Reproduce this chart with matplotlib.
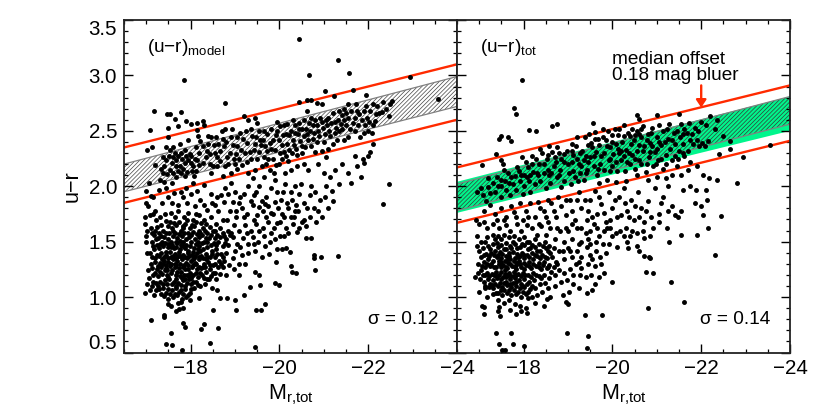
import matplotlib
matplotlib.use("Agg")
import matplotlib.pyplot as plt
from matplotlib.ticker import MultipleLocator

plt.rcParams['font.family'] = ['Liberation Sans', 'DejaVu Sans']
plt.rcParams['mathtext.fontset'] = 'custom'
plt.rcParams['mathtext.rm'] = 'Liberation Sans'
plt.rcParams['mathtext.default'] = 'rm'
plt.rcParams['hatch.linewidth'] = 0.5

left_outliers = [(-20.45,3.33),(-21.31,3.14),(-20.66,3.00),(-21.57,3.02),(-17.86,2.96),(-22.94,2.99),(-23.58,2.79),(-21.65,2.87),(-21.03,2.86),(-21.24,2.81),(-21.96,2.82),(-18.77,2.75),(-17.17,2.68),(-17.78,2.67),(-17.53,2.65),(-17.47,2.65),(-17.64,2.61),(-17.08,2.51),(-17.89,2.59),(-22.47,2.02),(-21.84,2.08),(-22.33,1.84),
(-17.11,0.79),(-17.40,0.84),(-17.40,0.82),(-17.56,0.68),(-17.44,0.58),(-17.57,0.57),(-17.81,0.52),(-17.84,0.77),(-17.87,0.73),(-18.30,0.76),(-18.24,0.71),(-18.61,0.72),(-18.43,0.59),(-19.46,0.55),(-18.51,0.88),(-19.02,0.88),(-19.47,0.88),(-19.59,0.88),(-19.68,0.94),(-18.19,0.99),(-18.67,0.99),(-18.82,0.99),(-19.0,0.97),(-19.2,1.02),(-19.34,1.09),(-18.49,1.08),(-18.6,1.06),(-19.56,1.11),(-19.9,1.13),(-20.0,1.11),(-19.45,1.23),(-19.55,1.2),(-19.92,1.32),(-20.27,1.28),(-20.28,1.23),(-20.37,1.22),(-20.81,1.24),(-20.94,1.36),(-20.78,1.38),(-20.78,1.35),(-21.33,1.37),(-20.6,1.53),(-20.72,1.53),(-20.39,1.59),(-20.24,1.41),(-20.14,1.44),(-20.05,1.43),(-19.94,1.43),(-19.76,1.39),(-19.6,1.36)]

left_sequence = [(-17.02,2.33),(-17.13,2.35),(-17.2,2.19),(-17.07,2.03),(-17.0,1.96),(-17.1,1.91),(-17.3,2.06),(-17.41,2.04),(-17.38,2.26),(-17.45,2.35),(-17.49,2.44),(-17.49,2.53),(-17.72,2.54),(-17.45,2.24),(-17.57,2.21),(-17.41,2.18),(-17.53,2.15),(-17.38,2.12),(-17.64,2.3),(-17.6,2.35),(-17.53,2.33),(-17.72,2.27),(-17.79,2.3),(-17.87,2.33),(-17.75,2.18),(-17.6,2.12),(-17.72,2.14),(-17.87,2.21),(-17.94,2.24),(-18.02,2.21),(-17.98,2.29),(-18.06,2.18),(-18.13,2.14),(-17.87,2.09),(-17.45,1.98),(-17.57,2.03),(-18.06,2.03),(-17.94,2.42),(-18.02,2.56),(-18.15,2.57),(-18.15,2.51),(-18.28,2.59),(-18.3,2.55),(-18.17,2.45),(-18.21,2.41),(-18.39,2.45),(-18.47,2.44),(-18.58,2.44),(-18.28,2.36),(-18.43,2.29),(-18.55,2.3),(-18.66,2.32),(-18.28,2.21),(-18.43,2.2),(-18.66,2.23),(-18.77,2.18),(-18.73,2.09),(-18.47,2.12),
(-17.6,2.26),(-17.66,2.18),(-17.8,2.25),(-17.84,2.16),(-17.92,2.13),(-18.0,2.27),(-18.1,2.25),(-18.08,2.09),(-17.68,2.08),(-18.18,2.3),(-18.36,2.32),(-18.52,2.37),(-18.62,2.38),(-18.75,2.36),(-18.72,2.43),(-18.8,2.4),(-18.78,2.52),(-18.7,2.5),(-18.9,2.44),(-18.95,2.37),(-18.88,2.3),(-18.98,2.25),(-18.85,2.2),(-19.05,2.16),(-19.1,2.25),(-19.05,2.36),(-19.12,2.48),(-19.2,2.63),(-19.18,2.43),(-19.28,2.39),(-19.22,2.3),(-19.15,2.19),(-19.3,2.12),(-19.35,2.25),(-19.42,2.33),(-19.38,2.45),(-19.35,2.52),(-19.3,2.6),(-19.45,2.62),(-19.5,2.57),(-19.55,2.5),(-19.48,2.44),(-19.58,2.37),(-19.5,2.25),(-19.6,2.18),(-19.45,2.15),(-19.4,2.07),(-19.65,2.08),(-19.7,2.2),(-19.72,2.32),(-19.62,2.42),(-19.72,2.47),(-19.78,2.39),(-19.86,2.42),(-19.9,2.33),(-19.85,2.25),(-19.78,2.15),(-19.88,2.12),(-20.0,2.2),(-20.02,2.3),(-20.0,2.42),(-19.95,2.5),(-20.02,2.54),(-19.95,2.58),(-20.1,2.55),(-20.14,2.47),(-20.18,2.38),(-20.1,2.31),(-20.2,2.23),(-20.12,2.12),(-20.25,2.15),(-20.28,2.3),(-20.3,2.42),(-20.25,2.5),(-20.35,2.55),(-20.3,2.6),(-20.45,2.57),(-20.42,2.47),(-20.5,2.36),(-20.4,2.28),(-20.5,2.3),(-20.4,2.18),(-20.55,2.2),(-20.55,2.45),(-20.6,2.52),(-20.55,2.6),(-20.62,2.68),(-20.45,2.76),(-20.62,2.78),(-20.72,2.78),(-20.85,2.75),(-20.95,2.74),(-20.72,2.62),(-20.7,2.5),(-20.65,2.42),(-20.72,2.36),(-20.8,2.31),(-20.78,2.48),(-20.85,2.55),(-20.8,2.6),(-20.92,2.62),(-20.98,2.53),(-20.9,2.45),(-21.0,2.4),(-20.95,2.32),(-21.05,2.26),(-21.1,2.34),(-21.15,2.45),(-21.08,2.55),(-21.1,2.62),(-21.2,2.66),(-21.25,2.58),(-21.25,2.48),(-21.2,2.38),(-21.3,2.42),(-21.35,2.5),(-21.32,2.6),(-21.35,2.68),(-21.45,2.7),(-21.55,2.74),(-21.45,2.6),(-21.42,2.52),(-21.45,2.42),(-21.55,2.44),(-21.6,2.52),(-21.55,2.62),(-21.62,2.68),(-21.72,2.74),(-21.7,2.62),(-21.7,2.5),(-21.78,2.55),(-21.8,2.65),(-21.85,2.6),(-21.9,2.68),(-21.98,2.62),(-22.05,2.68),(-22.1,2.74),(-22.2,2.72),(-22.25,2.66),(-22.33,2.76),(-22.4,2.7),(-22.48,2.74),(-22.1,2.55),(-22.0,2.5),(-21.9,2.48),(-21.82,2.44),(-22.08,2.48),(-22.1,2.38),(-22.04,2.31),(-22.0,2.27),(-21.9,2.21),(-21.88,2.25),(-22.32,2.67),(-22.46,2.63),(-22.53,2.77),
(-17.33,2.16),(-17.47,2.11),(-17.52,2.27),(-17.67,2.24),(-17.78,2.12),(-17.9,2.27),(-18.04,2.14),(-18.2,2.19),(-18.35,2.26),(-18.5,2.18),(-18.6,2.26),(-18.83,2.26),(-18.92,2.12),(-19.0,2.2),(-19.02,2.29),(-19.14,2.33),(-19.26,2.22),(-19.33,2.31),(-19.45,2.38),(-19.53,2.31),(-19.56,2.42),(-19.66,2.26),(-19.67,2.36),(-19.75,2.25),(-19.82,2.34),(-19.92,2.46),(-19.93,2.19),(-20.06,2.37),(-20.06,2.25),(-20.08,2.46),(-20.15,2.27),(-20.22,2.46),(-20.22,2.33),(-20.33,2.37),(-20.36,2.48),(-20.38,2.34),(-20.47,2.41),(-20.52,2.52),(-20.58,2.35),(-20.63,2.47),(-20.66,2.57),(-20.75,2.43),(-20.75,2.55),(-20.85,2.4),(-20.87,2.5),(-20.95,2.58),(-21.03,2.47),(-21.05,2.6),(-21.12,2.5),(-21.17,2.57),(-21.28,2.53),(-21.38,2.56),(-21.5,2.55),(-21.5,2.66),(-21.65,2.57),(-21.75,2.68),(-21.92,2.55),(-21.95,2.72),(-22.02,2.58),(-22.18,2.65),(-22.15,2.59),(-21.4,2.64),(-19.25,2.5),(-19.65,2.5),(-19.8,2.52),(-20.18,2.56),(-20.45,2.52),(-18.93,2.52),(-19.05,2.44),(-18.6,2.18),(-18.15,2.24),(-18.12,2.35),(-17.75,2.38),(-18.4,2.38)]

left_middle = [(-17.0,1.85),(-17.15,1.9),(-17.28,1.97),(-17.05,1.82),(-17.2,1.78),(-17.35,1.85),(-17.5,1.9),(-17.62,1.94),(-17.78,1.95),(-17.9,1.98),(-18.02,1.93),(-18.15,1.96),(-18.3,2.01),(-18.45,1.93),(-18.6,1.9),(-18.78,1.98),(-18.9,2.03),(-19.0,1.95),(-19.08,1.85),(-19.2,1.93),(-19.3,2.0),(-19.42,1.92),(-19.55,2.0),(-19.6,1.87),(-19.7,1.9),(-19.8,1.98),(-19.9,2.06),(-19.95,1.95),(-20.03,1.88),(-20.12,2.02),(-20.25,1.95),(-20.35,2.0),(-20.45,1.93),(-20.55,1.85),(-20.68,1.92),(-20.8,1.95),(-20.92,1.88),(-21.05,2.0),(-21.15,2.08),(-21.25,2.15),(-21.4,2.2),(-21.55,2.12),(-21.7,2.27),(-21.75,2.18),(-21.62,2.03),(-21.35,2.02),(-21.0,2.12),(-20.88,2.2),(-20.65,2.15),
(-17.82,1.9),(-17.93,1.85),(-18.1,1.82),(-18.22,1.88),(-18.38,1.79),(-18.48,1.85),(-18.62,1.78),(-18.75,1.86),(-18.88,1.78),(-19.02,1.72),(-19.15,1.8),(-19.28,1.75),(-19.4,1.83),(-19.5,1.74),(-19.62,1.78),(-19.75,1.82),(-19.85,1.75),(-19.97,1.8),(-20.1,1.72),(-20.2,1.8),(-20.32,1.72),(-20.42,1.78),(-20.55,1.7),(-20.7,1.72),(-20.82,1.68),(-20.95,1.72),(-21.1,1.8),(-21.2,1.87),(-20.6,1.64),(-20.45,1.62),(-20.3,1.66),(-20.15,1.62),(-20.02,1.68),(-19.88,1.62),(-19.75,1.68),(-19.62,1.62),(-19.48,1.66),(-19.35,1.6),(-19.22,1.65),(-19.1,1.6),(-18.98,1.65),(-18.85,1.6),(-18.72,1.7),(-18.58,1.66),(-18.45,1.72),(-18.3,1.7),(-18.2,1.74),(-19.9,1.52),(-19.78,1.5),(-19.65,1.55),(-19.52,1.5),(-19.4,1.54),(-19.3,1.48),(-19.18,1.53),(-19.05,1.48),(-18.95,1.54),(-19.45,1.42),(-19.3,1.4),(-19.15,1.38),(-19.0,1.42),(-19.22,1.3),(-19.08,1.3),(-18.98,1.25),(-19.1,1.2),(-18.95,1.35),(-20.02,1.55),(-19.82,1.58),
(-17.58,1.85),(-17.72,1.83),(-18.3,1.83),(-18.55,1.83),(-18.68,1.92),(-18.95,1.86),(-19.12,1.9),(-19.35,1.87),(-19.48,1.95),(-19.55,1.81),(-19.68,1.84),(-19.8,1.76),(-19.9,1.86),(-20.08,1.95),(-20.16,1.85),(-20.28,1.88),(-20.38,1.83),(-20.48,2.02),(-20.62,1.8),(-20.72,2.0),(-20.78,1.8),(-20.88,1.78),(-21.02,1.9),(-21.18,1.96),(-20.05,1.75),(-20.25,1.72),(-19.7,1.72),(-19.42,1.7),(-19.2,1.72),(-19.02,1.78),(-18.82,1.7),(-18.92,1.58),(-19.28,1.58),(-19.55,1.6),(-19.68,1.46),(-19.42,1.48),(-19.12,1.45),(-20.1,1.55),(-20.2,1.58),(-20.5,1.68),(-19.95,1.67),(-20.35,1.78),(-18.85,1.93)]

left_blob = [(-16.98,1.72),(-17.08,1.74),(-17.15,1.75),(-16.97,1.66),(-17.02,1.6),(-17.0,1.55),(-17.0,1.5),(-17.1,1.62),(-17.22,1.7),(-17.32,1.72),(-17.42,1.75),(-17.55,1.76),(-17.65,1.72),(-17.72,1.78),(-17.85,1.72),(-17.95,1.76),(-18.05,1.7),(-18.12,1.75),
(-17.18,1.56),(-17.28,1.58),(-17.38,1.6),(-17.48,1.64),(-17.58,1.62),(-17.68,1.65),(-17.78,1.6),(-17.88,1.66),(-17.98,1.62),(-18.08,1.64),(-18.18,1.6),(-18.28,1.62),(-18.38,1.58),(-18.5,1.6),(-18.6,1.56),(-18.72,1.58),(-18.8,1.52),
(-17.12,1.5),(-17.22,1.52),(-17.3,1.48),(-17.4,1.54),(-17.5,1.52),(-17.6,1.55),(-17.7,1.53),(-17.8,1.55),(-17.9,1.52),(-18.0,1.56),(-18.1,1.52),(-18.2,1.54),(-18.3,1.5),(-18.42,1.53),(-18.52,1.49),(-18.62,1.5),(-18.72,1.46),(-18.85,1.47),
(-17.08,1.4),(-17.18,1.43),(-17.28,1.44),(-17.38,1.46),(-17.48,1.45),(-17.58,1.47),(-17.68,1.45),(-17.78,1.47),(-17.88,1.44),(-17.98,1.46),(-18.08,1.44),(-18.18,1.46),(-18.28,1.43),(-18.38,1.45),(-18.48,1.42),(-18.58,1.43),(-18.68,1.39),(-18.8,1.4),
(-17.02,1.4),(-17.14,1.36),(-17.24,1.38),(-17.34,1.4),(-17.44,1.38),(-17.54,1.41),(-17.64,1.39),(-17.74,1.41),(-17.84,1.38),(-17.94,1.4),(-18.04,1.38),(-18.14,1.4),(-18.24,1.37),(-18.34,1.39),(-18.44,1.36),(-18.54,1.36),(-18.64,1.33),(-18.76,1.33),
(-17.1,1.3),(-17.2,1.32),(-17.3,1.31),(-17.4,1.33),(-17.5,1.32),(-17.6,1.34),(-17.7,1.33),(-17.8,1.34),(-17.9,1.31),(-18.0,1.33),(-18.1,1.31),(-18.2,1.34),(-18.3,1.3),(-18.4,1.32),(-18.5,1.29),(-18.62,1.27),(-18.74,1.27),(-18.86,1.29),
(-17.03,1.24),(-17.14,1.26),(-17.24,1.25),(-17.34,1.27),(-17.44,1.26),(-17.54,1.28),(-17.64,1.27),(-17.74,1.26),(-17.84,1.27),(-17.94,1.25),(-18.04,1.27),(-18.14,1.25),(-18.24,1.26),(-18.34,1.23),(-18.44,1.25),(-18.54,1.22),(-18.66,1.21),(-18.8,1.2),
(-17.06,1.17),(-17.16,1.2),(-17.26,1.19),(-17.36,1.21),(-17.46,1.2),(-17.56,1.22),(-17.66,1.2),(-17.76,1.19),(-17.86,1.2),(-17.96,1.19),(-18.06,1.2),(-18.16,1.18),(-18.26,1.2),(-18.36,1.16),(-18.46,1.19),(-18.58,1.16),
(-17.02,1.12),(-17.12,1.1),(-17.22,1.13),(-17.32,1.14),(-17.42,1.15),(-17.52,1.16),(-17.62,1.14),(-17.72,1.13),(-17.82,1.15),(-17.92,1.13),(-18.02,1.12),(-18.12,1.14),(-18.22,1.1),(-18.32,1.12),
(-16.98,1.04),(-17.08,1.06),(-17.18,1.02),(-17.28,1.07),(-17.38,1.08),(-17.48,1.07),(-17.58,1.06),(-17.68,1.08),(-17.78,1.06),(-17.88,1.07),(-17.98,1.04),(-18.08,1.08),
(-17.4,1.01),(-17.5,0.98),(-17.6,1.0),(-17.7,1.02),(-17.8,0.98),(-17.9,1.0),(-17.98,0.97),(-17.48,0.94),(-17.56,0.92),(-17.72,0.95),(-17.82,0.9),(-17.74,0.89),(-17.66,0.87),(-17.78,0.96),
(-17.25,1.47),(-17.45,1.41),(-17.62,1.44),(-17.82,1.5),(-17.95,1.42),(-18.12,1.48),(-18.05,1.34),(-17.85,1.29),(-17.65,1.3),(-17.45,1.29),(-17.72,1.37),(-17.92,1.35),(-17.55,1.36),(-17.35,1.34),(-18.22,1.42),(-18.35,1.34),(-17.58,1.24),(-17.78,1.23),(-17.98,1.22),(-17.68,1.16),(-17.88,1.16),(-17.42,1.24),(-18.12,1.3),(-18.28,1.27),(-17.5,1.48),(-17.7,1.49),(-17.9,1.47),(-18.1,1.37),(-18.02,1.5),(-17.36,1.5),(-17.52,1.58),(-17.74,1.57),(-17.94,1.58),(-18.15,1.57),
(-17.16,1.46),(-17.33,1.55),(-17.43,1.49),(-17.55,1.45),(-17.66,1.5),(-17.76,1.43),(-17.84,1.46),(-18.05,1.41),(-18.16,1.43),(-18.25,1.49),(-18.34,1.53),(-18.46,1.47),(-18.57,1.47),(-18.67,1.54),(-18.78,1.49),(-17.2,1.35),(-17.29,1.37),(-17.4,1.36),(-17.49,1.35),(-17.6,1.37),(-17.67,1.35),(-17.77,1.37),(-17.88,1.36),(-17.97,1.37),(-18.08,1.35),(-18.18,1.36),(-18.27,1.35),(-18.38,1.36),(-18.48,1.39),(-18.6,1.39),(-18.72,1.36),(-17.26,1.28),(-17.37,1.3),(-17.47,1.24),(-17.55,1.3),(-17.68,1.29),(-17.76,1.3),(-17.87,1.25),(-17.95,1.29),(-18.06,1.29),(-18.18,1.27),(-18.32,1.27),(-18.44,1.29),(-18.56,1.3),(-18.68,1.3),(-17.2,1.22),(-17.31,1.23),(-17.5,1.18),(-17.7,1.23),(-17.81,1.17),(-17.92,1.2),(-18.02,1.17),(-18.12,1.22),(-18.22,1.22),(-18.3,1.17),(-18.42,1.16),(-18.5,1.22),(-17.15,1.14),(-17.26,1.1),(-17.38,1.12),(-17.47,1.12),(-17.58,1.12),(-17.68,1.1),(-17.78,1.11),(-17.88,1.1),(-17.96,1.16),(-18.06,1.14),(-18.16,1.11),(-17.22,1.06),(-17.33,1.03),(-17.44,1.04),(-17.54,1.03),(-17.64,1.03),(-17.74,1.05),(-17.84,1.03),(-17.94,1.02),(-18.02,1.07),
(-17.12,1.58),(-17.24,1.63),(-17.34,1.65),(-17.44,1.69),(-17.53,1.68),(-17.63,1.67),(-17.73,1.68),(-17.83,1.64),(-17.93,1.7),(-18.03,1.65),(-18.13,1.68),(-18.24,1.67),(-18.35,1.66),(-18.44,1.63),(-18.55,1.6),(-18.66,1.62),(-17.27,1.53),(-17.45,1.58),(-17.56,1.5),(-17.65,1.58),(-17.75,1.51),(-17.85,1.58),(-17.96,1.54),(-18.06,1.59),(-18.16,1.5),(-18.26,1.56),(-18.36,1.5),(-18.46,1.56),(-18.56,1.53),(-18.76,1.55),(-18.88,1.56),(-17.2,1.6),(-17.6,1.6),(-17.82,1.62),(-18.22,1.58),(-18.32,1.6)]

right_outliers = [(-17.97,2.96),(-17.78,2.71),(-17.82,2.65),(-17.07,2.19),(-17.45,2.43),(-17.48,2.45),(-17.65,2.44),(-17.72,2.41),(-18.13,2.51),(-18.29,2.5),(-18.65,2.54),(-18.76,2.56),(-17.37,2.29),(-17.49,2.24),(-17.53,2.2),(-22.8,2.03),(-22.95,2.26),(-23.55,2.37),(-22.64,2.34),(-22.4,2.29),(-21.5,2.65),(-22.2,2.63),(-21.0,2.64),(-20.6,2.61),(-20.55,2.64),(-22.5,2.45),(-22.65,2.41),(-22.35,2.06),(-22.18,2.07),(-22.1,1.97),(-21.86,1.85),(-22.12,1.88),(-22.0,1.82),(-19.56,2.57),(-19.6,2.49),
(-17.43,0.87),(-17.46,0.83),(-17.1,0.91),(-17.1,0.85),(-17.37,0.68),(-17.45,0.58),(-17.52,0.52),(-17.58,0.52),(-17.72,0.68),(-17.75,0.58),(-18.0,0.56),(-18.98,0.68),(-19.44,0.65),(-19.42,0.54),(-19.39,0.84),(-19.76,0.84),(-20.8,0.9),(-21.61,0.96),(-21.32,1.14),(-20.92,1.22),(-20.75,1.23),(-20.0,1.14),(-22.32,1.38),(-21.9,1.56),(-21.55,1.56),(-22.04,1.74),(-22.45,1.73),(-22.15,1.62),(-20.85,1.55),(-20.72,1.53),(-20.85,1.35),(-20.82,1.36),(-20.72,1.37),(-20.6,1.42),(-20.55,1.46),(-20.35,1.44),(-20.4,1.55),(-20.3,1.62)]

right_sequence = [(-16.95,1.95),(-17.05,1.98),(-17.08,1.92),(-17.15,1.87),(-17.2,1.99),(-17.3,2.03),(-17.35,1.95),(-17.42,2.0),(-17.5,1.9),(-17.48,2.06),(-17.58,2.05),(-17.6,1.97),(-17.7,1.92),(-17.65,2.12),(-17.75,2.02),(-17.8,2.09),(-17.82,1.97),(-17.92,2.05),(-17.9,2.14),(-17.98,1.93),(-18.02,2.1),(-18.02,2.0),(-18.1,2.17),(-18.12,2.05),(-18.15,1.95),(-18.22,2.13),(-18.25,2.02),(-18.05,2.22),(-17.97,2.26),(-18.18,2.27),(-18.28,2.25),(-18.3,2.12),(-18.35,2.2),(-18.38,2.05),(-18.42,2.3),(-18.38,2.34),(-18.52,2.25),(-18.55,2.15),(-18.5,1.98),(-18.6,2.03),(-18.62,2.12),(-18.58,2.36),(-18.65,2.31),(-18.72,2.22),(-18.75,2.08),(-18.7,2.26),(-18.82,2.15),(-18.8,2.3),(-18.85,1.99),(-18.92,2.05),(-18.92,2.22),(-18.98,2.32),(-19.02,2.12),(-19.08,2.22),(-19.06,2.02),(-19.12,2.28),(-19.12,2.14),(-19.18,2.36),(-19.24,2.2),(-19.22,2.05),(-19.2,2.44),(-19.28,2.12),(-19.32,2.32),(-19.35,2.24),(-19.36,2.06),(-19.38,2.44),(-19.42,2.15),(-19.44,2.37),(-19.5,2.26),(-19.48,2.47),(-19.52,2.39),(-19.58,2.18),(-19.62,2.31),(-19.6,2.43),(-19.65,2.1),(-19.7,2.37),(-19.72,2.2),(-19.78,2.44),(-19.8,2.3),(-19.85,2.42),(-19.82,2.15),(-19.92,2.24),(-19.9,2.5),(-19.95,2.35),(-19.98,2.46),(-20.0,2.18),(-20.02,2.29),(-20.05,2.52),(-20.08,2.38),(-20.1,2.14),(-20.15,2.3),(-20.12,2.46),(-20.2,2.24),(-20.22,2.4),(-20.25,2.55),(-20.28,2.14),(-20.3,2.33),(-20.35,2.48),(-20.32,2.22),(-20.42,2.38),(-20.45,2.28),(-20.48,2.42),(-20.5,2.16),(-20.55,2.5),(-20.55,2.32),(-20.6,2.24),(-20.65,2.44),(-20.65,2.2),(-20.7,2.54),(-20.72,2.36),(-20.75,2.13),(-20.8,2.47),(-20.82,2.26),(-20.85,2.39),(-20.9,2.53),(-20.92,2.18),(-20.95,2.31),(-21.0,2.44),(-21.02,2.24),(-21.05,2.55),(-21.1,2.37),(-21.15,2.5),(-21.15,2.16),(-21.2,2.28),(-21.25,2.43),(-21.28,2.56),(-21.3,2.34),(-21.35,2.24),(-21.38,2.48),(-21.42,2.38),(-21.45,2.18),(-21.5,2.32),(-21.52,2.44),(-21.55,2.56),(-21.6,2.38),(-21.62,2.27),(-21.68,2.48),(-21.7,2.32),(-21.72,2.57),(-21.8,2.47),(-21.82,2.38),(-21.85,2.53),(-21.9,2.42),(-21.95,2.36),(-22.0,2.58),(-22.02,2.39),(-22.08,2.36),(-22.15,2.41),(-22.1,2.55),(-22.3,2.52),(-22.35,2.6),
(-17.2,2.07),(-17.4,2.08),(-17.55,2.15),(-17.68,2.03),(-17.85,2.17),(-18.15,2.1),(-18.45,2.12),(-18.68,2.18),(-18.9,2.29),(-19.1,2.32),(-19.3,2.18),(-19.55,2.35),(-19.75,2.27),(-20.0,2.4),(-20.2,2.32),(-20.4,2.2),(-20.6,2.37),(-20.85,2.31),(-21.1,2.25),(-21.35,2.42),(-21.6,2.47),(-19.4,2.27),(-19.95,2.25),(-20.5,2.46),(-21.0,2.34),(-21.2,2.2),(-21.48,2.25),(-21.75,2.22),(-21.7,2.15),(-21.9,2.18),(-22.05,2.1),(-21.55,2.1),(-21.35,2.1),(-21.2,2.07),(-21.0,2.08),(-20.8,2.06),(-20.55,2.1),(-20.3,2.05),(-20.08,2.04),(-19.88,2.06),(-19.7,2.03),
(-17.25,1.94),(-17.5,2.0),(-17.72,2.08),(-17.95,2.1),(-18.08,2.08),(-18.2,2.2),(-18.33,2.1),(-18.46,2.2),(-18.58,2.1),(-18.8,2.1),(-18.85,2.25),(-19.0,2.2),(-19.15,2.08),(-19.2,2.25),(-19.28,2.3),(-19.4,2.12),(-19.45,2.22),(-19.58,2.27),(-19.68,2.16),(-19.68,2.43),(-19.88,2.36),(-19.95,2.14),(-20.08,2.22),(-20.12,2.34),(-20.25,2.27),(-20.27,2.45),(-20.38,2.3),(-20.4,2.45),(-20.5,2.25),(-20.6,2.47),(-20.68,2.32),(-20.77,2.42),(-20.78,2.2),(-20.9,2.36),(-20.98,2.2),(-21.05,2.4),(-21.18,2.4),(-21.22,2.52),(-21.4,2.27),(-21.45,2.5),(-21.58,2.3),(-21.62,2.52),(-21.75,2.42),(-21.92,2.5),(-19.1,2.38),(-18.75,2.35),(-18.55,2.28),(-20.88,2.48),(-20.65,2.52),(-20.45,2.52),(-20.15,2.52),(-19.78,2.52)]

right_middle = [(-16.92,1.7),(-17.0,1.66),(-16.95,1.55),(-17.1,1.78),(-17.25,1.83),(-17.35,1.75),(-17.48,1.8),(-17.6,1.72),(-17.72,1.82),(-17.82,1.72),(-17.92,1.85),(-18.05,1.78),(-18.15,1.85),(-18.25,1.72),(-18.38,1.8),(-18.5,1.72),(-18.62,1.85),(-18.72,1.72),(-18.85,1.82),(-18.95,1.74),(-19.05,1.88),(-19.15,1.7),(-19.25,1.95),(-19.3,1.8),(-19.42,1.7),(-19.5,1.88),(-19.6,1.96),(-19.65,1.75),(-19.75,1.84),(-19.85,1.68),(-19.92,1.95),(-20.0,1.8),(-20.1,1.72),(-20.15,1.9),(-20.25,1.98),(-20.32,1.78),(-20.42,1.88),(-20.48,1.7),(-20.58,1.95),(-20.65,1.8),(-20.72,1.68),(-20.8,1.87),(-20.95,1.98),(-21.05,1.75),(-21.15,1.9),(-21.25,2.0),(-21.35,1.82),(-21.4,1.74),(-21.48,1.72),(-21.58,1.97),(-21.55,1.78),(-21.75,2.0),(-21.88,1.97),(-21.05,1.68),(-21.22,1.62),(-21.28,1.5),(-20.92,1.62),(-20.7,1.6),(-20.55,1.58),(-20.45,1.6),(-20.32,1.5),(-20.18,1.6),(-20.1,1.45),(-20.0,1.55),(-19.88,1.62),(-19.78,1.48),(-19.7,1.55),(-19.58,1.66),(-19.5,1.48),(-19.4,1.58),(-19.3,1.5),(-19.2,1.62),(-19.1,1.52),(-19.0,1.6),(-18.9,1.5),(-18.82,1.6),(-18.7,1.52),(-18.6,1.62),(-18.5,1.56),(-18.4,1.64),(-18.3,1.56),(-18.2,1.62),(-18.08,1.65),(-17.95,1.6),(-17.85,1.66),(-17.7,1.6),(-17.6,1.65),(-17.45,1.62),(-17.3,1.66),(-17.18,1.62),(-17.1,1.68),
(-19.85,1.4),(-19.72,1.36),(-19.62,1.42),(-19.5,1.38),(-19.42,1.45),(-19.3,1.36),(-19.2,1.42),(-19.1,1.36),(-19.0,1.44),(-18.92,1.34),(-18.8,1.42),(-18.72,1.32),(-19.6,1.28),(-19.45,1.3),(-19.3,1.26),(-19.18,1.3),(-19.05,1.25),(-18.92,1.22),(-18.8,1.24),(-18.7,1.2),(-19.52,1.2),(-19.4,1.18),(-19.28,1.2),(-19.8,1.22),(-19.7,1.18),(-19.6,1.12),(-19.55,1.06),(-19.42,1.04),(-19.25,1.08),(-19.12,1.12),(-19.02,1.05),(-18.88,1.02),(-18.85,1.14),(-18.7,1.1),(-18.6,1.0),(-18.55,1.08),(-18.52,0.98),(-18.42,1.05),(-18.3,1.02),(-18.25,0.95),(-18.1,0.99),(-18.95,0.96),(-19.0,0.94),(-18.45,0.92),
(-17.4,1.7),(-17.55,1.7),(-17.78,1.77),(-17.98,1.7),(-18.1,1.72),(-18.32,1.86),(-18.45,1.78),(-18.55,1.88),(-18.68,1.78),(-18.78,1.9),(-18.95,1.88),(-19.1,1.78),(-19.2,1.88),(-19.38,1.88),(-19.45,1.78),(-19.55,1.72),(-19.7,1.9),(-19.82,1.76),(-19.95,1.7),(-20.05,1.88),(-20.2,1.74),(-20.28,1.85),(-20.38,1.72),(-20.52,1.82),(-20.6,1.72),(-20.75,1.78),(-20.88,1.72),(-21.1,1.85),(-21.25,1.78),(-18.35,1.66),(-18.55,1.68),(-18.75,1.62),(-18.95,1.62),(-19.1,1.66),(-19.3,1.62),(-19.5,1.6),(-19.65,1.62),(-19.8,1.6),(-19.95,1.62),(-20.08,1.58),(-20.25,1.55),(-19.25,1.48),(-19.45,1.52),(-19.62,1.5),(-19.92,1.48),(-18.88,1.42),(-19.05,1.42),(-19.25,1.32),(-19.55,1.34),(-19.75,1.3),(-19.12,1.2),(-18.98,1.15),(-18.75,1.3)]

right_blob = [(-16.95,1.46),(-17.05,1.5),(-17.18,1.54),(-17.3,1.56),(-17.42,1.55),(-17.55,1.56),(-17.66,1.54),(-17.78,1.55),(-17.9,1.52),(-18.0,1.54),(-18.12,1.5),(-18.25,1.52),(-18.35,1.48),(-18.48,1.5),(-18.58,1.46),(-18.68,1.44),
(-17.0,1.42),(-17.08,1.44),(-17.2,1.46),(-17.3,1.48),(-17.4,1.49),(-17.5,1.47),(-17.6,1.49),(-17.7,1.46),(-17.8,1.48),(-17.92,1.45),(-18.02,1.47),(-18.15,1.44),(-18.25,1.45),(-18.38,1.42),(-18.5,1.44),(-18.6,1.4),
(-17.05,1.36),(-17.15,1.39),(-17.26,1.4),(-17.36,1.42),(-17.46,1.41),(-17.56,1.43),(-17.66,1.4),(-17.76,1.41),(-17.86,1.39),(-17.96,1.4),(-18.08,1.38),(-18.18,1.4),(-18.3,1.37),(-18.42,1.38),(-18.52,1.35),(-18.64,1.36),
(-16.98,1.3),(-17.1,1.32),(-17.2,1.34),(-17.3,1.33),(-17.4,1.36),(-17.5,1.35),(-17.6,1.37),(-17.7,1.34),(-17.8,1.35),(-17.9,1.33),(-18.0,1.35),(-18.12,1.32),(-18.22,1.34),(-18.34,1.31),(-18.46,1.32),(-18.58,1.29),(-18.68,1.27),
(-17.04,1.24),(-17.14,1.27),(-17.24,1.28),(-17.34,1.27),(-17.44,1.3),(-17.54,1.29),(-17.64,1.31),(-17.74,1.28),(-17.84,1.29),(-17.94,1.27),(-18.05,1.29),(-18.16,1.26),(-18.28,1.28),(-18.4,1.25),(-18.52,1.26),(-18.62,1.23),
(-16.9,1.18),(-16.98,1.22),(-17.08,1.2),(-17.18,1.22),(-17.28,1.21),(-17.38,1.23),(-17.48,1.23),(-17.58,1.24),(-17.68,1.22),(-17.78,1.23),(-17.88,1.21),(-17.98,1.22),(-18.1,1.2),(-18.22,1.22),(-18.34,1.19),(-18.46,1.2),(-18.58,1.17),
(-17.1,1.14),(-17.2,1.16),(-17.3,1.15),(-17.4,1.17),(-17.5,1.16),(-17.6,1.18),(-17.7,1.16),(-17.8,1.17),(-17.9,1.15),(-18.0,1.16),(-18.12,1.14),(-18.24,1.15),(-18.36,1.12),(-18.48,1.13),
(-17.0,1.05),(-17.12,1.08),(-17.22,1.09),(-17.32,1.08),(-17.42,1.1),(-17.52,1.09),(-17.62,1.11),(-17.72,1.09),(-17.82,1.1),(-17.92,1.08),(-18.02,1.09),(-18.14,1.07),(-18.26,1.08),
(-17.18,1.0),(-17.3,1.03),(-17.42,1.04),(-17.52,1.02),(-17.62,1.04),(-17.72,1.02),(-17.82,1.03),(-17.94,1.0),(-18.06,1.03),(-18.18,1.0),
(-17.06,0.92),(-17.42,0.97),(-17.55,0.95),(-17.68,0.97),(-17.8,0.94),(-17.92,0.92),(-18.05,0.9),(-17.45,0.91),(-17.7,0.88),(-17.82,0.85),(-17.95,0.87),(-18.08,0.86),
(-17.25,1.43),(-17.45,1.33),(-17.62,1.26),(-17.82,1.25),(-17.52,1.39),(-17.72,1.44),(-17.92,1.37),(-18.1,1.43),(-17.35,1.2),(-17.55,1.13),(-17.75,1.13),(-17.95,1.12),(-17.65,1.34),(-17.85,1.31),(-18.02,1.25),(-17.42,1.45),(-17.58,1.21),(-17.78,1.19),(-17.28,1.11),(-17.48,1.06),(-17.68,1.06),(-17.88,1.05),
(-17.14,1.5),(-17.35,1.52),(-17.48,1.52),(-17.6,1.43),(-17.75,1.5),(-17.85,1.44),(-17.97,1.48),(-18.08,1.5),(-18.2,1.47),(-18.3,1.42),(-18.44,1.46),(-18.56,1.42),(-17.1,1.38),(-17.22,1.37),(-17.33,1.38),(-17.42,1.38),(-17.5,1.32),(-17.58,1.33),(-17.68,1.37),(-17.78,1.33),(-17.88,1.36),(-18.0,1.38),(-18.12,1.36),(-18.25,1.38),(-18.36,1.35),(-18.48,1.36),(-17.06,1.28),(-17.18,1.3),(-17.27,1.3),(-17.38,1.27),(-17.48,1.27),(-17.6,1.27),(-17.7,1.3),(-17.8,1.27),(-17.92,1.3),(-18.02,1.31),(-18.12,1.28),(-18.22,1.3),(-18.34,1.27),(-18.44,1.29),(-18.56,1.27),(-17.02,1.16),(-17.12,1.2),(-17.22,1.19),(-17.33,1.2),(-17.44,1.2),(-17.54,1.18),(-17.64,1.2),(-17.72,1.19),(-17.84,1.2),(-17.94,1.19),(-18.04,1.2),(-18.16,1.18),(-18.28,1.2),(-18.4,1.17),(-17.14,1.1),(-17.25,1.12),(-17.35,1.12),(-17.46,1.13),(-17.6,1.14),(-17.7,1.12),(-17.84,1.14),(-17.98,1.1),(-18.08,1.12),(-18.2,1.1),(-17.38,1.04),(-17.56,1.06),(-17.78,1.06),(-17.98,1.05),(-18.1,1.05)]

band_x = [-16.5, -24.0]
left_band_top = [2.20, 2.99]
left_band_bottom = [1.95, 2.72]
left_red_upper = [2.35, 3.10]
left_red_lower = [1.85, 2.60]
right_hatch_top = [2.02, 2.81]
right_hatch_bottom = [1.78, 2.56]
right_green_top = [2.04, 2.81]
right_green_bottom = [1.76, 2.50]
right_red_upper = [2.17, 2.91]
right_red_lower = [1.67, 2.41]
x_ticks = [-18, -20, -22, -24]
x_tick_labels = ['\u221218', '\u221220', '\u221222', '\u221224']
y_ticks = [0.5, 1.0, 1.5, 2.0, 2.5, 3.0, 3.5]
y_tick_labels = ['0.5', '1.0', '1.5', '2.0', '2.5', '3.0', '3.5']

RED = '#ff2a00'
GREEN = '#00f58c'
FS = 14.8

fig = plt.figure(figsize=(8.3, 4.15), dpi=100)
W, H = 830.0, 415.0
axL = fig.add_axes([124/W, 1-352.5/H, 333/W, 332.5/H])
axR = fig.add_axes([457/W, 1-352.5/H, 333/W, 332.5/H])

for ax in (axL, axR):
    ax.set_xlim(-16.5, -24)
    ax.set_ylim(0.5, 3.5)
    ax.set_xticks(x_ticks)
    ax.set_xticklabels(x_tick_labels, fontsize=FS)
    ax.xaxis.set_minor_locator(MultipleLocator(0.5))
    ax.yaxis.set_minor_locator(MultipleLocator(0.1))
    ax.set_yticks(y_ticks)
    ax.tick_params(which='major', direction='in', length=6.5, width=1.0, top=True, right=True, pad=5)
    ax.tick_params(which='minor', direction='in', length=3.2, width=0.9, top=True, right=True)
    for s in ax.spines.values():
        s.set_linewidth(1.3)
        s.set_color('#222222')
    ax.set_xlabel('M$_{\\mathrm{r{,}tot}}$', fontsize=15.5, labelpad=3)

axL.set_yticklabels(y_tick_labels, fontsize=FS)
labs = axL.get_yticklabels()
labs[0].set_va('bottom')
labs[-1].set_va('top')
axR.set_yticklabels([])
fig.text(72/W, 1-186/H, 'u\u2212r', rotation=90, fontsize=15.5, ha='center', va='center')

# left panel
axL.fill_between(band_x, left_band_bottom, left_band_top, facecolor='white', edgecolor='#444444', hatch='/'*8, linewidth=0, zorder=1)
axL.plot(band_x, left_band_top, color='#808080', lw=0.9, zorder=1.2)
axL.plot(band_x, left_band_bottom, color='#808080', lw=0.9, zorder=1.2)
axL.plot(band_x, left_red_upper, color=RED, lw=1.7, zorder=2)
axL.plot(band_x, left_red_lower, color=RED, lw=1.7, zorder=2)
pts = left_outliers + left_sequence + left_middle + left_blob
axL.scatter([p[0] for p in pts], [p[1] for p in pts], s=12.5, c='black', linewidths=0, zorder=3)

# right panel
axR.fill_between(band_x, right_green_bottom, right_green_top, facecolor=GREEN, edgecolor='none', zorder=1)
axR.fill_between(band_x, right_hatch_bottom, right_hatch_top, facecolor='none', edgecolor='#333c36', hatch='/'*8, linewidth=0, zorder=1.5)
axR.plot(band_x, right_hatch_top, color='#808080', lw=0.9, zorder=1.6)
axR.plot(band_x, right_hatch_bottom, color='#808080', lw=0.9, zorder=1.6)
axR.plot(band_x, right_red_upper, color=RED, lw=1.7, zorder=2)
axR.plot(band_x, right_red_lower, color=RED, lw=1.7, zorder=2)
pts = right_outliers + right_sequence + right_middle + right_blob
axR.scatter([p[0] for p in pts], [p[1] for p in pts], s=12.5, c='black', linewidths=0, zorder=3)
axR.annotate('', xy=(-22, 2.71), xytext=(-22, 2.91),
             arrowprops=dict(arrowstyle='-|>,head_length=0.45,head_width=0.3', color=RED, lw=1.7, shrinkA=0, shrinkB=0), zorder=4)

TS = 13.7
axL.text(147/W, 1-48/H, '(u\u2212r)$_{\\mathrm{model}}$', transform=fig.transFigure, fontsize=TS, va='center', ha='left')
axR.text(479.5/W, 1-48/H, '(u\u2212r)$_{\\mathrm{tot}}$', transform=fig.transFigure, fontsize=TS, va='center', ha='left')
axR.text(612/W, 1-59/H, 'median offset', transform=fig.transFigure, fontsize=TS, va='center', ha='left')
axR.text(612/W, 1-75.5/H, '0.18 mag bluer', transform=fig.transFigure, fontsize=TS, va='center', ha='left')
axL.text(368/W, 1-319/H, '\u03c3 = 0.12', transform=fig.transFigure, fontsize=TS, va='center', ha='left')
axR.text(700/W, 1-319/H, '\u03c3 = 0.14', transform=fig.transFigure, fontsize=TS, va='center', ha='left')

fig.savefig('out.png', dpi=100)
